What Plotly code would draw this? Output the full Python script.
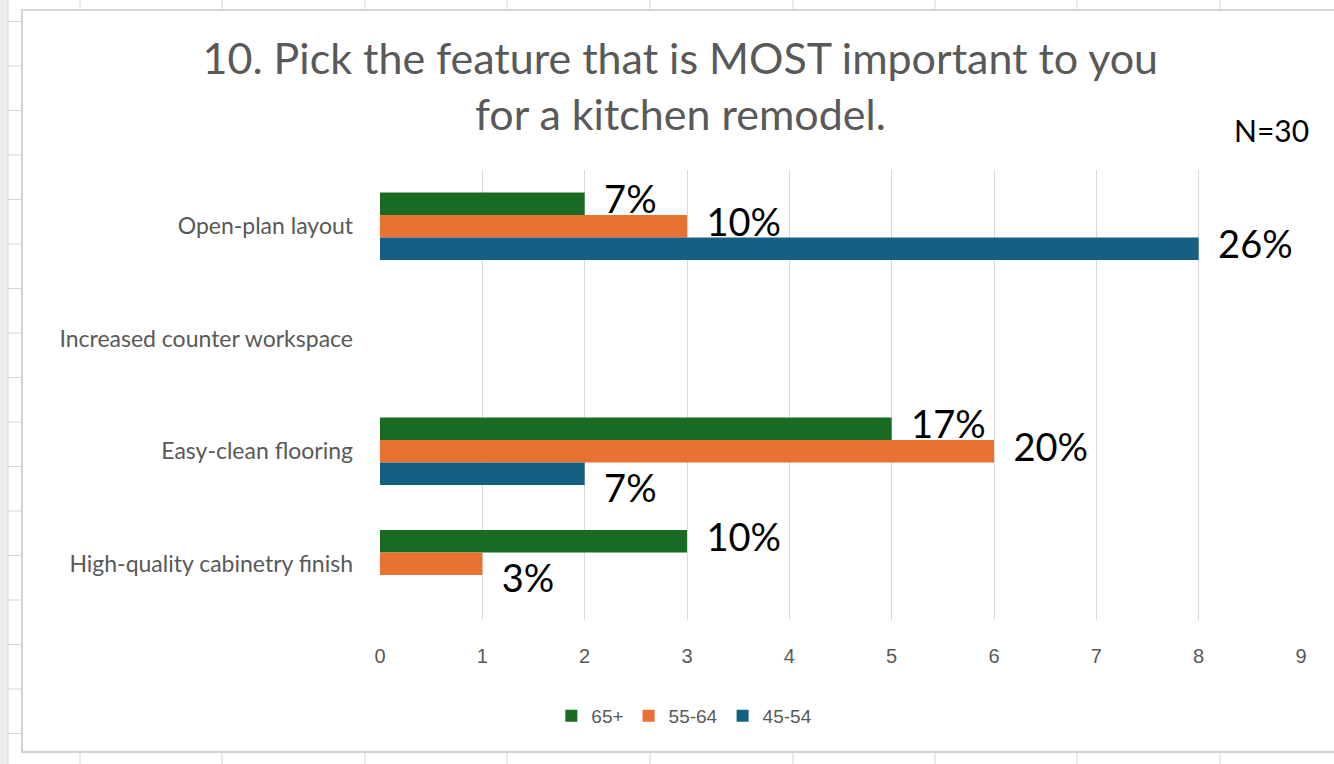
import plotly.graph_objects as go

# survey data (N=30), counts per age group
features = ["Open-plan layout", "Increased counter workspace",
            "Easy-clean flooring", "High-quality cabinetry finish"]
groups = ["65+", "55-64", "45-54"]
count_65 = [2, None, 5, 3]
count_55 = [3, None, 6, 1]
count_45 = [8, None, 2, None]
pct_65 = ["7%", "", "17%", "10%"]
pct_55 = ["10%", "", "20%", "3%"]
pct_45 = ["26%", "", "7%", ""]
label_pos_65 = ["middle right", "middle right", "middle right", "middle right"]
label_pos_55 = ["middle right", "middle right", "middle right", "bottom right"]
label_pos_45 = ["middle right", "middle right", "bottom right", "middle right"]
x_ticks = list(range(0, 10))

colors = ["#196B24", "#E97132", "#156082"]
W, H = 1334, 764
L, R, T, B = 380, 33, 170, 144


def px_x(x):
    return (x - L) / (W - L - R)


def px_y(y):
    return (H - B - y) / (H - T - B)


fig = go.Figure()
series = [(count_65, pct_65, label_pos_65), (count_55, pct_55, label_pos_55),
          (count_45, pct_45, label_pos_45)]
for name, color, (vals, _, _) in zip(groups, colors, series):
    fig.add_trace(go.Bar(y=features, x=vals, name=name, orientation="h",
                         marker=dict(color=color, line=dict(width=0))))

# percentage labels, grouped like the bars
for name, (vals, labels, pos) in zip(groups, series):
    fig.add_trace(go.Scatter(y=features, x=vals, mode="text", text=labels,
                             texttemplate="\u00a0\u00a0%{text}",
                             textposition=pos, orientation="h",
                             textfont=dict(family="Lato", size=38, color="#000000"),
                             showlegend=False, hoverinfo="skip", cliponaxis=False))

# spreadsheet backdrop
shapes = [dict(type="rect", xref="paper", yref="paper", layer="below",
               x0=px_x(0), x1=px_x(8), y0=px_y(0), y1=px_y(H),
               fillcolor="#eeeeee", line=dict(width=0))]
for cx in [80, 222, 365, 507, 650, 793, 935, 1077, 1220]:
    for ya, yb in [(0, 10), (752, H)]:
        shapes.append(dict(type="line", xref="paper", yref="paper", layer="below",
                           x0=px_x(cx), x1=px_x(cx), y0=px_y(ya), y1=px_y(yb),
                           line=dict(color="#d6d6d6", width=1)))
ry = 333
while ry > 10:
    ry -= 44.5
ry += 44.5
while ry < 752:
    shapes.append(dict(type="line", xref="paper", yref="paper", layer="below",
                       x0=px_x(8), x1=px_x(22), y0=px_y(ry), y1=px_y(ry),
                       line=dict(color="#d6d6d6", width=1)))
    ry += 44.5
shapes.append(dict(type="line", xref="paper", yref="paper", layer="below",
                   x0=px_x(8), x1=px_x(8), y0=px_y(0), y1=px_y(H),
                   line=dict(color="#d6d6d6", width=1)))
shapes.append(dict(type="rect", xref="paper", yref="paper", layer="below",
                   x0=px_x(22), x1=px_x(W + 10), y0=px_y(10), y1=px_y(752),
                   fillcolor="#ffffff", line=dict(color="#d4d4d4", width=2)))

fig.update_layout(
    width=W, height=H,
    margin=dict(l=L, r=R, t=T, b=B),
    paper_bgcolor="#ffffff",
    plot_bgcolor="rgba(0,0,0,0)",
    barmode="group", bargap=0.4, bargroupgap=0,
    scattermode="group", scattergap=0.4,
    title=dict(text="10. Pick the feature that is MOST important to you<br>for a kitchen remodel.",
               x=0.51, xanchor="center", y=1 - 74 / H, yanchor="middle",
               font=dict(family="Lato", size=43, color="#595959")),
    xaxis=dict(range=[0, 9], tickvals=x_ticks, showgrid=True, gridcolor="#d9d9d9",
               gridwidth=1, zeroline=False, showline=False, ticks="",
               tickfont=dict(family="Liberation Sans Narrow, Liberation Sans", size=20,
                             color="#595959"),
               ticklabelstandoff=22),
    yaxis=dict(categoryorder="array", categoryarray=features, autorange="reversed",
               showgrid=False, zeroline=False, showline=False, ticks="",
               tickfont=dict(family="Lato", size=23, color="#595959"),
               ticklabelstandoff=26),
    legend=dict(orientation="h", xref="container", yref="container",
                x=0.513, xanchor="center", y=1 - 716 / H, yanchor="middle",
                font=dict(family="Liberation Sans Narrow, Liberation Sans", size=19,
                          color="#595959"),
                itemwidth=30, traceorder="normal"),
    shapes=shapes,
    annotations=[dict(text="N=30", xref="paper", yref="paper",
                      x=px_x(1271), y=px_y(130), xanchor="center", yanchor="middle",
                      showarrow=False, font=dict(family="Lato", size=30, color="#000000"))],
)

fig.write_html("out.html", config={"displayModeBar": False},
               post_script="document.body.style.margin = '0';")
